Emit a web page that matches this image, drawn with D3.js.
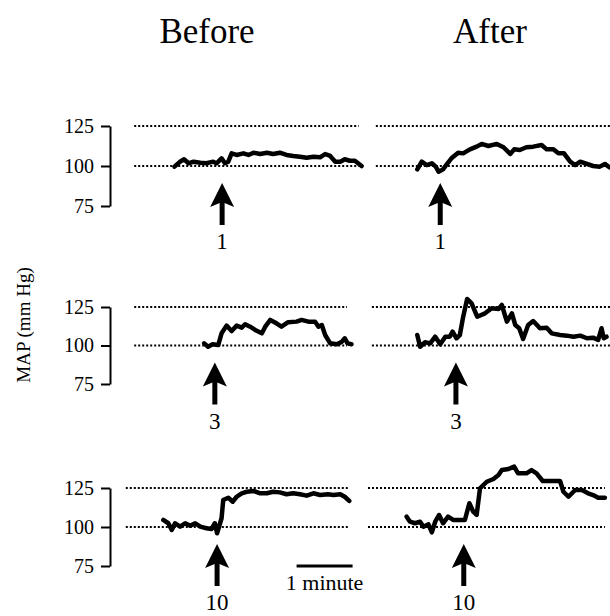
<!DOCTYPE html>
<html>
<head>
<meta charset="utf-8">
<script src="https://cdn.jsdelivr.net/npm/d3@7"></script>
<style>
  body { margin: 0; background: #fff; }
</style>
</head>
<body>
<script>
// MAP traces before / after, three doses
// each trace: [minutes from panel start, MAP mm Hg]
var columns = ["Before", "After"];
var doses = ["1", "3", "10"];
var yTicks = [75, 100, 125];
var refLines = [100, 125];

var before1 = [[0.92,99.6],[1.02,102.7],[1.09,104.2],[1.17,101.7],[1.26,102.7],[1.38,102],[1.49,101.7],[1.61,102.7],[1.67,101.7],[1.76,104.8],[1.82,101.7],[1.88,102.7],[1.94,107.9],[2.03,106.9],[2.15,107.9],[2.24,106.9],[2.33,108.3],[2.45,107.5],[2.57,108.3],[2.68,107.5],[2.80,108.3],[2.92,106.9],[3.04,106.3],[3.16,105.8],[3.28,105.2],[3.40,105.8],[3.52,105.4],[3.61,107.5],[3.70,106.3],[3.79,102.7],[3.88,102.7],[3.96,104.2],[4.05,103.3],[4.14,103.3],[4.26,100]];
var after1 = [[0.88,97.9],[0.96,102.7],[1.05,100.6],[1.14,101.7],[1.21,99.6],[1.26,96.4],[1.34,97.9],[1.42,101.7],[1.49,104.8],[1.61,108.3],[1.70,107.9],[1.82,110.4],[1.94,112.1],[2.03,113.8],[2.15,112.5],[2.30,113.8],[2.42,111.7],[2.54,107.5],[2.61,110.4],[2.71,110],[2.83,111.7],[2.95,112.1],[3.10,113.1],[3.19,110.4],[3.31,110.4],[3.40,107.9],[3.50,107.9],[3.61,102.7],[3.70,100.6],[3.79,102.7],[3.91,101.3],[4.02,100],[4.14,99.6],[4.23,101.3],[4.31,99.2]];
var before3 = [[1.45,101.4],[1.52,99.2],[1.60,100.8],[1.70,100.3],[1.76,107.9],[1.85,112.9],[1.94,109.4],[2.03,112.9],[2.12,111.6],[2.18,113.8],[2.27,112.2],[2.36,110.1],[2.48,107.9],[2.54,112.2],[2.63,116.6],[2.74,114.4],[2.83,112.2],[2.95,115.1],[3.10,115.5],[3.19,116.6],[3.31,115.5],[3.43,115.5],[3.49,112.2],[3.55,113.3],[3.61,106.8],[3.70,101.4],[3.82,100.8],[3.91,102.5],[3.96,104.7],[4.01,101.4],[4.08,100.8]];
var after3 = [[0.88,106.8],[0.93,99.2],[1.02,102.1],[1.11,101.4],[1.20,105.7],[1.29,100.8],[1.38,105.7],[1.46,105.7],[1.51,109],[1.58,104.7],[1.64,106.8],[1.70,118.7],[1.77,130.2],[1.85,127.4],[1.95,118.7],[2.09,120.9],[2.21,124.2],[2.33,123.7],[2.39,126.3],[2.48,115.5],[2.57,120.9],[2.63,113.3],[2.70,111.2],[2.77,104.2],[2.86,113.3],[2.95,115.9],[3.07,111.2],[3.19,111.6],[3.28,107.9],[3.43,106.8],[3.55,106.4],[3.67,105.7],[3.79,106.4],[3.91,104.7],[4.02,105.1],[4.11,103.6],[4.17,111.2],[4.21,104.7],[4.26,105.7]];
var before10 = [[0.72,104.5],[0.81,102.4],[0.87,98.1],[0.93,102.4],[1.02,100.2],[1.11,102.4],[1.20,100.8],[1.29,102.4],[1.38,100.2],[1.49,99.2],[1.58,98.7],[1.64,102.4],[1.68,96],[1.76,105.6],[1.79,117.3],[1.88,118.8],[1.96,116.2],[2.03,119.4],[2.12,121.6],[2.21,122.6],[2.33,123.1],[2.45,121.6],[2.57,121.6],[2.68,122.6],[2.80,122.2],[2.92,121],[3.04,121.6],[3.16,121],[3.28,120.1],[3.40,121.6],[3.52,120.5],[3.66,121],[3.76,120.5],[3.88,121],[3.96,119.4],[4.04,116.7]];
var after10 = [[0.69,106.6],[0.75,103.4],[0.84,102.4],[0.93,103.4],[0.99,100.2],[1.08,101.7],[1.14,96.6],[1.20,103.4],[1.27,107.7],[1.34,102.4],[1.43,106.6],[1.52,104.5],[1.64,104.5],[1.73,104.5],[1.81,115.2],[1.88,109.8],[1.94,107.7],[2.00,124.8],[2.12,129],[2.24,130.8],[2.33,133.3],[2.39,136.5],[2.51,137.2],[2.61,138.7],[2.68,134.4],[2.83,134.4],[2.92,136.5],[3.01,134.4],[3.12,129.5],[3.28,129.5],[3.43,129.5],[3.49,122.6],[3.58,119.4],[3.70,123.7],[3.82,123.7],[3.93,121.6],[4.02,120.5],[4.11,118.8],[4.23,118.8]];

// injection times (minutes) and extent of the dotted reference lines
var injectBefore = [1.77, 1.64, 1.68];
var injectAfter = [1.29, 1.57, 1.71];
var refBefore = [[0.2, 4.21], [0.2, 4.0], [0.05, 4.05]];
var refAfter = [[0.14, 4.32], [0.07, 4.32], [0.0, 4.23]];
var scaleBar = [3.1, 4.1]; // 1 minute

var traces = [[before1, after1], [before3, after3], [before10, after10]];
var injects = [injectBefore, injectAfter];
var refs = [refBefore, refAfter];

// layout
var svgWidth = 610, svgHeight = 616;
var pxPerMin = 56;
var colLeft = [123, 368];
var titleX = [207, 490];
var rowRange = [[206, 126], [384, 307], [566, 488]]; // y of 75 and 125
var axisX = 110;
var serif = "'Liberation Serif', 'Times New Roman', Times, serif";

var svg = d3.select("body").append("svg")
    .attr("width", svgWidth)
    .attr("height", svgHeight)
    .style("font-family", serif);

// one x scale per column
var xScales = colLeft.map(function(x0) {
  return d3.scaleLinear().domain([0, 4.4]).range([x0, x0 + 4.4 * pxPerMin]);
});
var yScales = rowRange.map(function(r) {
  return d3.scaleLinear().domain([75, 125]).range(r);
});

// column titles
svg.selectAll(".title")
    .data(columns)
  .enter().append("text")
    .attr("class", "title")
    .attr("x", function(d, i) { return titleX[i]; })
    .attr("y", 43)
    .attr("text-anchor", "middle")
    .style("font-family", serif)
    .style("font-size", "35px")
    .text(function(d) { return d; });

// y axis title
svg.append("text")
    .attr("transform", "translate(30,325)rotate(-90)")
    .attr("text-anchor", "middle")
    .style("font-family", serif)
    .style("font-size", "19px")
    .text("MAP (mm Hg)");

var arrowDrop = 17, arrowLen = 42, labelGap = 24;

yScales.forEach(function(y, r) {
  // bracket axis
  var ax = svg.append("g")
      .attr("transform", "translate(" + axisX + ",0)")
      .call(d3.axisLeft(y).tickValues(yTicks).tickSize(9).tickSizeOuter(0).tickPadding(7));
  ax.select(".domain").attr("stroke-width", 2);
  ax.selectAll(".tick line").attr("stroke-width", 2);
  ax.selectAll(".tick text")
      .style("font-family", serif)
      .style("font-size", "20px");

  xScales.forEach(function(x, c) {
    var g = svg.append("g");

    // dotted reference lines
    g.selectAll(".ref")
        .data(refLines)
      .enter().append("line")
        .attr("x1", x(refs[c][r][0]))
        .attr("x2", x(refs[c][r][1]))
        .attr("y1", function(d) { return y(d); })
        .attr("y2", function(d) { return y(d); })
        .attr("stroke", "#000")
        .attr("stroke-width", 2)
        .attr("stroke-dasharray", "2,2");

    // MAP trace
    var line = d3.line()
        .x(function(d) { return x(d[0]); })
        .y(function(d) { return y(d[1]); });
    g.append("path")
        .datum(traces[r][c])
        .attr("d", line)
        .attr("fill", "none")
        .attr("stroke", "#000")
        .attr("stroke-width", 4.5)
        .attr("stroke-linejoin", "round")
        .attr("stroke-linecap", "round");

    // injection arrow
    var ax0 = x(injects[c][r]);
    var top = y(100) + arrowDrop;
    g.append("rect")
        .attr("x", ax0 - 2.5)
        .attr("y", top + 18)
        .attr("width", 5)
        .attr("height", arrowLen - 18);
    g.append("path")
        .attr("d", "M" + ax0 + "," + top +
                   "L" + (ax0 + 12) + "," + (top + 24) +
                   "L" + ax0 + "," + (top + 19) +
                   "L" + (ax0 - 12) + "," + (top + 24) + "Z")
        .attr("fill", "#000");
    g.append("text")
        .attr("x", ax0)
        .attr("y", top + arrowLen + labelGap)
        .attr("text-anchor", "middle")
        .style("font-family", serif)
        .style("font-size", "23px")
        .text(doses[r]);
  });
});

// time scale bar under the last before panel
var xb = xScales[0];
svg.append("line")
    .attr("x1", xb(scaleBar[0]))
    .attr("x2", xb(scaleBar[1]))
    .attr("y1", 566)
    .attr("y2", 566)
    .attr("stroke", "#000")
    .attr("stroke-width", 3);
svg.append("text")
    .attr("x", (xb(scaleBar[0]) + xb(scaleBar[1])) / 2)
    .attr("y", 590)
    .attr("text-anchor", "middle")
    .style("font-family", serif)
    .style("font-size", "22px")
    .text("1 minute");
</script>
</body>
</html>
